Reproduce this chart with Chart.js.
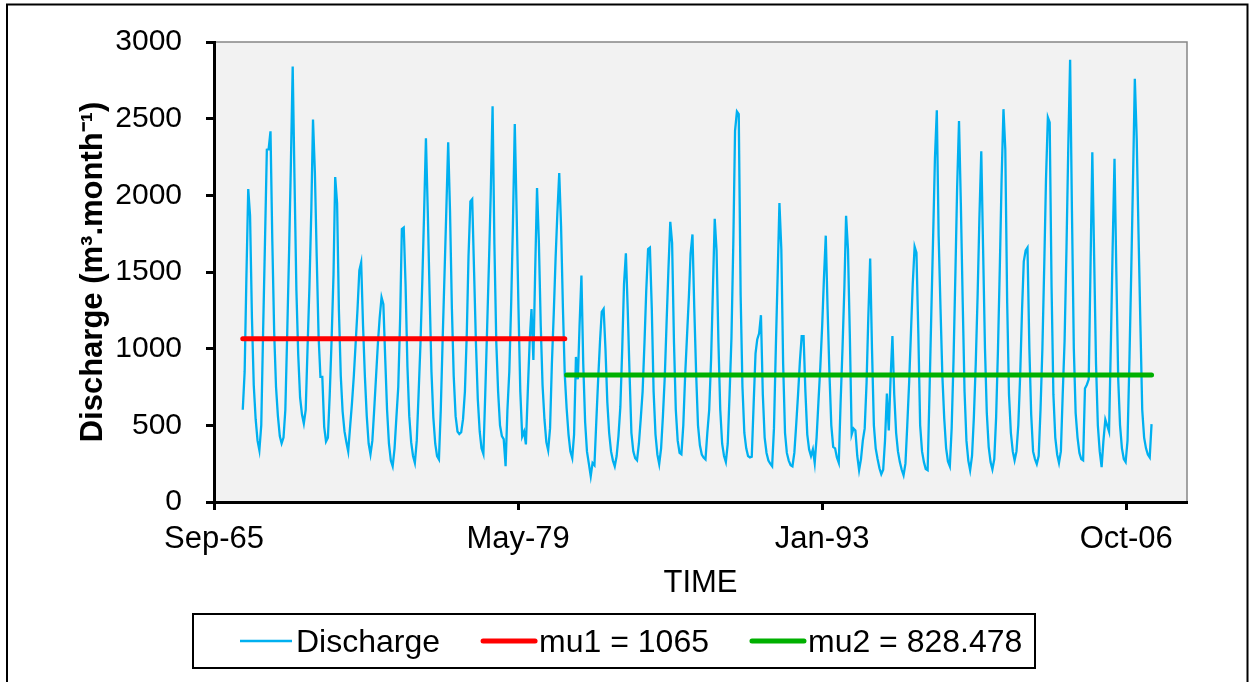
<!DOCTYPE html>
<html>
<head>
<meta charset="utf-8">
<title>Discharge</title>
<script src="https://cdn.jsdelivr.net/npm/chart.js@4.4.1/dist/chart.umd.min.js"></script>
<style>
  html, body { margin: 0; padding: 0; background: #ffffff; }
  canvas { display: block; }
</style>
</head>
<body>
<canvas id="dischargeChart" width="1250" height="682"></canvas>
<script>
// monthly discharge, Jan..Dec, one row per year
const startYear = 1967;

const flow1967to1976 = [
  602, 850, 1450, 2041, 1866, 1200, 760, 540, 400, 337, 500, 1100,     // 1967
  1690, 2298, 2300, 2417, 1700, 1100, 750, 560, 430, 382, 420, 600,    // 1968
  1100, 1640, 2180, 2840, 2100, 1380, 960, 680, 570, 512, 600, 1000,   // 1969
  1400, 1900, 2495, 2150, 1600, 1080, 816, 816, 490, 395, 420, 700,    // 1970
  1060, 1480, 2119, 1950, 1250, 820, 590, 460, 390, 330, 490, 640,     // 1971
  820, 1040, 1250, 1510, 1562, 1150, 820, 560, 380, 311, 400, 600,     // 1972
  820, 1040, 1200, 1335, 1290, 930, 600, 380, 270, 233, 350, 550,      // 1973
  750, 1200, 1780, 1790, 1420, 880, 560, 390, 300, 255, 400, 700,      // 1974
  1030, 1450, 1870, 2372, 1900, 1350, 850, 550, 380, 300, 278, 600,    // 1975
  1060, 1490, 1900, 2346, 1900, 1260, 820, 560, 460, 443, 455, 540     // 1976
];

const flow1977to1986 = [
  720, 1100, 1600, 1960, 1975, 1500, 1040, 670, 460, 350, 313, 700,    // 1977
  1130, 1570, 2000, 2581, 1680, 1040, 720, 500, 430, 410, 233, 600,    // 1978
  850, 1300, 1800, 2465, 1900, 1260, 720, 428, 460, 376, 720, 1040,    // 1979
  1259, 927, 1500, 2048, 1700, 1150, 760, 540, 390, 337, 480, 900,     // 1980
  1230, 1600, 1880, 2145, 1800, 1260, 830, 610, 440, 330, 287, 440,    // 1981
  946, 800, 1150, 1477, 900, 520, 330, 250, 168, 255, 240, 520,        // 1982
  800, 1050, 1240, 1259, 1000, 650, 450, 330, 270, 233, 300, 430,      // 1983
  620, 1000, 1420, 1622, 1260, 830, 450, 330, 285, 272, 380, 540,      // 1984
  720, 1040, 1370, 1650, 1659, 1260, 720, 440, 310, 248, 350, 560,     // 1985
  820, 1190, 1510, 1827, 1690, 1040, 600, 400, 320, 311, 500, 820      // 1986
];

const flow1987to1996 = [
  1080, 1340, 1620, 1745, 1260, 830, 500, 370, 310, 290, 278, 450,    // 1987
  600, 930, 1370, 1847, 1640, 1040, 600, 380, 300, 261, 380, 700,      // 1988
  1070, 1700, 2420, 2547, 2530, 1350, 750, 450, 350, 300, 291, 295,    // 1989
  640, 970, 1060, 1100, 1218, 700, 420, 320, 270, 250, 233, 480,       // 1990
  1010, 1500, 1950, 1650, 900, 450, 320, 270, 240, 233, 320, 500,      // 1991
  700, 920, 1082, 1082, 720, 440, 343, 300, 343, 255, 420, 650,        // 1992
  880, 1150, 1450, 1737, 1260, 830, 500, 360, 350, 290, 255, 650,      // 1993
  1000, 1400, 1866, 1650, 1100, 441, 480, 467, 300, 207, 280, 400,     // 1994
  480, 780, 1200, 1588, 1000, 500, 350, 280, 220, 181, 210, 400,       // 1995
  708, 467, 800, 1082, 700, 450, 330, 260, 210, 175, 250, 500          // 1996
];

const flow1997to2007 = [
  780, 1120, 1420, 1665, 1626, 1100, 500, 330, 260, 215, 207, 700,     // 1997
  1240, 1760, 2240, 2555, 1736, 1259, 826, 545, 350, 265, 233, 480,    // 1998
  930, 1500, 2050, 2484, 1950, 1300, 720, 400, 270, 207, 300, 550,     // 1999
  900, 1350, 1850, 2287, 1650, 1000, 580, 360, 260, 213, 280, 550,     // 2000
  1000, 1550, 2100, 2562, 2300, 1300, 700, 450, 330, 272, 330, 500,    // 2001
  830, 1260, 1570, 1640, 1659, 1000, 570, 330, 280, 248, 300, 600,     // 2002
  1000, 1550, 2100, 2508, 2475, 1400, 700, 420, 310, 255, 330, 700,    // 2003
  1050, 1650, 2300, 2884, 1900, 1000, 580, 420, 320, 280, 272, 740,    // 2004
  765, 800, 1500, 2281, 1600, 900, 500, 330, 227, 400, 538, 500,       // 2005
  460, 1050, 1650, 2238, 1500, 800, 500, 350, 280, 261, 400, 900,      // 2006
  1500, 2140, 2760, 2370, 1750, 1150, 600, 420, 350, 310, 291, 508     // 2007
];

// segment means (break after Jul 1981)
const mu1 = 1065;
const mu2 = 828.478;
const mu1Label = 'mu1 = 1065';
const mu2Label = 'mu2 = 828.478';
const breakAt = { year: 1981, month: 8 };   // first month of 2nd segment

// x axis: Excel date serials and their labels
const xTickSerials = [24000, 29000, 34000, 39000];
const xTickLabels = ['Sep-65', 'May-79', 'Jan-93', 'Oct-06'];

// ---------------------------------------------------------------
const FONT = '"Liberation Sans", Arial, sans-serif';
Chart.defaults.font.family = FONT;
Chart.defaults.color = '#000';

function excelSerial(year, month) {
  return (Date.UTC(year, month - 1, 1) - Date.UTC(1899, 11, 30)) / 86400000;
}

const allFlow = [...flow1967to1976, ...flow1977to1986, ...flow1987to1996, ...flow1997to2007];
const dischargePts = allFlow.map((v, i) => ({
  x: excelSerial(startYear + Math.floor(i / 12), (i % 12) + 1),
  y: v
}));
const firstX = dischargePts[0].x;
const lastX = dischargePts[dischargePts.length - 1].x;
const breakX = excelSerial(breakAt.year, breakAt.month);
const beforeBreakX = excelSerial(breakAt.year, breakAt.month - 1);

// grey plot area + outer frame
const frame = {
  id: 'frame',
  beforeDraw(chart) {
    const { ctx, chartArea: a } = chart;
    ctx.save();
    ctx.fillStyle = '#fff';
    ctx.fillRect(0, 0, chart.width, chart.height);
    ctx.fillStyle = '#f2f2f2';
    ctx.fillRect(a.left, a.top, a.right - a.left, a.bottom - a.top);
    ctx.strokeStyle = '#868686';
    ctx.lineWidth = 1.5;
    ctx.strokeRect(a.left, a.top, a.right - a.left, a.bottom - a.top);
    ctx.restore();
  },
  afterDraw(chart) {
    const ctx = chart.ctx;
    ctx.save();
    ctx.strokeStyle = '#000';
    ctx.lineWidth = 2;
    ctx.strokeRect(7, 4.5, 1240.5, 700);
    ctx.restore();
  }
};

// legend in a framed box under the axis
const boxLegend = {
  id: 'boxLegend',
  afterDraw(chart) {
    const ctx = chart.ctx;
    ctx.save();
    ctx.strokeStyle = '#000';
    ctx.lineWidth = 2;
    ctx.strokeRect(193, 614, 842, 54);
    ctx.font = '32px ' + FONT;
    ctx.textBaseline = 'alphabetic';
    let x = 240;
    chart.data.datasets.forEach(ds => {
      ctx.beginPath();
      ctx.strokeStyle = ds.borderColor;
      ctx.lineWidth = ds.borderWidth;
      ctx.lineCap = ds.borderCapStyle || 'butt';
      ctx.moveTo(x, 641);
      ctx.lineTo(x + 52, 641);
      ctx.stroke();
      ctx.fillStyle = '#000';
      ctx.fillText(ds.label, x + 56, 652);
      x += 56 + ctx.measureText(ds.label).width + 43;
    });
    ctx.restore();
  }
};

const ctx = document.getElementById('dischargeChart').getContext('2d');
new Chart(ctx, {
  type: 'line',
  data: {
    datasets: [
      {
        label: 'Discharge',
        data: dischargePts,
        borderColor: '#00b0f0',
        borderWidth: 2.3,
        pointRadius: 0,
        tension: 0,
        order: 3
      },
      {
        label: mu1Label,
        data: [{ x: firstX, y: mu1 }, { x: beforeBreakX, y: mu1 }],
        borderColor: '#ff0000',
        borderWidth: 5,
        borderCapStyle: 'round',
        pointRadius: 0,
        order: 2
      },
      {
        label: mu2Label,
        data: [{ x: breakX, y: mu2 }, { x: lastX, y: mu2 }],
        borderColor: '#00b000',
        borderWidth: 5,
        borderCapStyle: 'round',
        pointRadius: 0,
        order: 1
      }
    ]
  },
  options: {
    responsive: false,
    animation: false,
    events: [],
    layout: { padding: { left: 0, top: 38, right: 63, bottom: 0 } },
    scales: {
      x: {
        type: 'linear',
        min: 24000,
        max: 40000,
        afterBuildTicks: (scale) => { scale.ticks = xTickSerials.map(v => ({ value: v })); },
        afterFit: (scale) => { scale.height = 180; },
        ticks: {
          callback: (v, i) => xTickLabels[i],
          autoSkip: false,
          maxRotation: 0,
          padding: 11,
          font: { size: 31 }
        },
        grid: { drawOnChartArea: false, drawTicks: true, tickLength: 8, tickWidth: 3, tickColor: '#000' },
        border: { display: true, color: '#000', width: 3 },
        title: { display: true, text: 'TIME', font: { size: 31 }, padding: { top: 0, bottom: 80 } }
      },
      y: {
        min: 0,
        max: 3000,
        afterFit: (scale) => { scale.width = 214; },
        ticks: { stepSize: 500, padding: 24, font: { size: 30 }, callback: (v) => String(v) },
        grid: { drawOnChartArea: false, drawTicks: true, tickLength: 8, tickWidth: 3, tickColor: '#000' },
        border: { display: true, color: '#000', width: 3 },
        title: {
          display: true,
          text: 'Discharge (m\u00b3.month\u207b\u00b9)',
          font: { size: 31, weight: 'bold' },
          padding: { top: 75, bottom: 0 }
        }
      }
    },
    plugins: { legend: { display: false }, tooltip: { enabled: false } }
  },
  plugins: [frame, boxLegend]
});
</script>
</body>
</html>
